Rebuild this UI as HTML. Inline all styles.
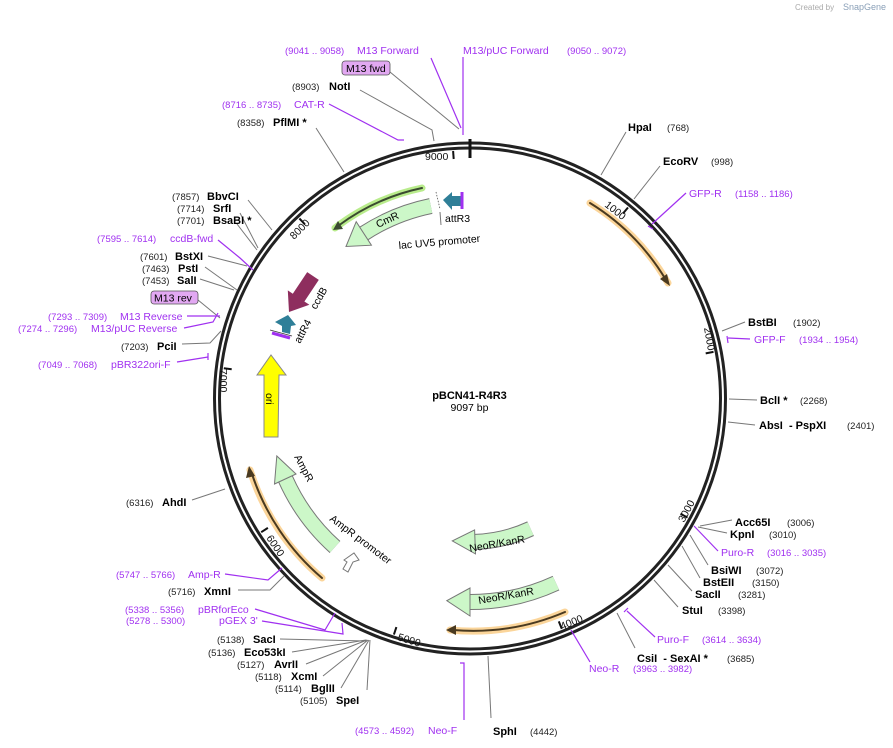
<!DOCTYPE html>
<html><head><meta charset="utf-8"><style>
html,body{margin:0;padding:0;background:#fff;}
svg{display:block;font-family:"Liberation Sans","DejaVu Sans",sans-serif;}
.b{font-weight:bold;font-size:11px;fill:#000;}
.n{font-size:9.5px;fill:#222;}
.p{font-size:10.5px;fill:#a030f0;}
.pn{font-size:9.5px;fill:#a030f0;}
.ln{stroke:#777;stroke-width:1;fill:none;}
.lp{stroke:#a030f0;stroke-width:1.2;fill:none;}
.tk{font-size:10.5px;fill:#111;}
</style></head><body>
<svg width="893" height="748" viewBox="0 0 893 748">
<text x="795" y="10" font-size="8" fill="#aaa">Created by</text><text x="843" y="10" font-size="9" fill="#8aa0b8">SnapGene</text>
<circle cx="470" cy="398.5" r="255.5" fill="none" stroke="#222" stroke-width="3"/>
<circle cx="470" cy="398.5" r="250.5" fill="none" stroke="#222" stroke-width="3"/>
<g stroke="#111" stroke-width="2">
<line x1="470" y1="139" x2="470" y2="158" stroke-width="3"/>
<line x1="453.1" y1="151" x2="453.7" y2="159"/>
<line x1="628" y1="207.5" x2="623" y2="213.5"/>
<line x1="713.5" y1="351.9" x2="705.7" y2="353.4"/>
<line x1="687.5" y1="517.6" x2="680.5" y2="513.8"/>
<line x1="561.8" y1="628.9" x2="558.8" y2="621.4"/>
<line x1="393.9" y1="634.6" x2="396.4" y2="627"/>
<line x1="261.2" y1="532.2" x2="267.9" y2="527.9"/>
<line x1="223.8" y1="368.3" x2="231.7" y2="369.3"/>
<line x1="299.4" y1="218.5" x2="304.9" y2="224.3"/>
</g>
<text class="tk" x="425" y="160">9000</text>
<text class="tk" transform="translate(604,206) rotate(38)">1000</text>
<text class="tk" transform="translate(704,328) rotate(80)">2000</text>
<text class="tk" transform="translate(684,523) rotate(-62)">3000</text>
<text class="tk" transform="translate(562,630) rotate(-22)">4000</text>
<text class="tk" transform="translate(397,640) rotate(17)">5000</text>
<text class="tk" transform="translate(266,538) rotate(56)">6000</text>
<text class="tk" transform="translate(220,369) rotate(90)">7000</text>
<text class="tk" transform="translate(294,240) rotate(-45)">8000</text>

<g fill="none" stroke-linecap="round">
<path d="M590 203 A228 228 0 0 1 668 283" stroke="#fbd59a" stroke-width="7"/>
<path d="M590 203 A228 228 0 0 1 666 280" stroke="#4a3a20" stroke-width="2"/>
<path d="M322 578 A232 232 0 0 1 250 470" stroke="#fbd59a" stroke-width="7"/>
<path d="M322 578 A232 232 0 0 1 252 474" stroke="#4a3a20" stroke-width="2"/>
<path d="M565 612 A235 235 0 0 1 450 630" stroke="#fbd59a" stroke-width="7"/>
<path d="M565 612 A235 235 0 0 1 453 630" stroke="#4a3a20" stroke-width="2"/>
<path d="M422 188 A215 215 0 0 0 335 228" stroke="#b9ec8c" stroke-width="7"/>
<path d="M422 188 A215 215 0 0 0 338 226" stroke="#3a4a30" stroke-width="2"/>
</g>
<g fill="#4a3a20">
<polygon points="670,286 660,279 667,274"/>
<polygon points="249,466 246,478 255,476"/>
<polygon points="446,630 456,625 456,635"/>
<polygon points="333,230 338,221 343,229" fill="#3a4a30"/>
</g>

<path d="M430.8 206 A195 195 0 0 0 363.8 233.5" fill="none" stroke="#777" stroke-width="16"/>
<path d="M430.8 206 A195 195 0 0 0 363.8 233.5" fill="none" stroke="#ccf7c8" stroke-width="14"/>
<polygon points="371.4,245.2 356.2,221.7 346,246.5" fill="#ccf7c8" stroke="#777" stroke-width="1"/>
<text transform="translate(378,228) rotate(-25)" font-size="10.5">CmR</text>
<path d="M335 547 A202 202 0 0 1 285.5 479" fill="none" stroke="#777" stroke-width="16"/>
<path d="M335 547 A202 202 0 0 1 285.5 479" fill="none" stroke="#ccf7c8" stroke-width="14"/>
<polygon points="296,474 274.5,484 276.8,456" fill="#ccf7c8" stroke="#777" stroke-width="1"/>
<text transform="translate(294,457) rotate(62)" font-size="10.5">AmpR</text>
<text transform="translate(329,520) rotate(37)" font-size="10.5">AmpR promoter</text>
<polygon points="344,560 354,553 359,560 353,562 348,572 343,569 347,562" fill="#fff" stroke="#777"/>
<path d="M530.6 528.7 A145 145 0 0 1 475.1 541.9" fill="none" stroke="#777" stroke-width="16"/>
<path d="M530.6 528.7 A145 145 0 0 1 475.1 541.9" fill="none" stroke="#ccf7c8" stroke-width="14"/>
<polygon points="474.6,529.9 475.5,553.9 452.3,540.9" fill="#ccf7c8" stroke="#777" stroke-width="1"/>
<text transform="translate(470,552) rotate(-10)" font-size="10.5">NeoR/KanR</text>
<path d="M556 583.1 A205 205 0 0 1 470 602" fill="none" stroke="#777" stroke-width="16"/>
<path d="M556 583.1 A205 205 0 0 1 470 602" fill="none" stroke="#ccf7c8" stroke-width="14"/>
<polygon points="470,588 470,616 446.8,600.7" fill="#ccf7c8" stroke="#777" stroke-width="1"/>
<text transform="translate(479,604) rotate(-10)" font-size="10.5">NeoR/KanR</text>
<polygon points="264,437 278,437 279,375 286,375 271,355 257,375 264,375" fill="#ffff00" stroke="#888"/>
<text transform="translate(266,393) rotate(90)" font-size="10.5">ori</text>
<polygon points="307.2,272.1 318.8,279.9 304.4,301.5 309.4,304.8 289,312 287.8,290.4 292.8,293.7" fill="#8e2e5e"/>
<text transform="translate(316,310) rotate(-60)" font-size="10.5">ccdB</text>
<polygon points="288,315 296,325 291,326 290,334 282,332 282,326 275,322" fill="#2f7f98"/>
<line x1="272" y1="333" x2="290" y2="338" stroke="#a030f0" stroke-width="3"/>
<line x1="270" y1="330" x2="292" y2="336" stroke="#333" stroke-width="0.7"/>
<text transform="translate(300,344) rotate(-62)" font-size="10.5">attR4</text>
<polygon points="443,200 452,192 452,196 462,196 462,206 452,206 452,210" fill="#2f7f98"/>
<line x1="462" y1="192" x2="462" y2="209" stroke="#a030f0" stroke-width="3"/>
<line x1="436" y1="192" x2="440" y2="209" stroke="#555" stroke-width="0.8" stroke-dasharray="1.5,1.5"/>
<text x="445" y="222" font-size="10.5">attR3</text>
<text transform="translate(399,249) rotate(-5)" font-size="10.5">lac UV5 promoter</text>
<line x1="440" y1="212" x2="441" y2="225" class="ln"/>

<text x="469.5" y="399" text-anchor="middle" class="b" font-size="11.5">pBCN41-R4R3</text>
<text x="469.5" y="411" text-anchor="middle" font-size="10.5">9097 bp</text>

<g class="ln">
<polyline points="626,132 601,175"/>
<polyline points="660,166 634,199"/>
<polyline points="745,322 722,331"/>
<polyline points="757,400 729,399"/>
<polyline points="755,425 728,422"/>
<polyline points="732,520 700,526"/>
<polyline points="727,533 698,527"/>
<polyline points="708,565 690,535"/>
<polyline points="700,578 682,546"/>
<polyline points="692,591 668,565"/>
<polyline points="678,607 654,580"/>
<polyline points="635,648 617,613"/>
<polyline points="491,718 488,656"/>
<polyline points="367,690 370,640"/>
<polyline points="341,688 369,640"/>
<polyline points="323,676 368,640"/>
<polyline points="306,664 367,640"/>
<polyline points="292,652 366,640"/>
<polyline points="280,639 366,641"/>
<polyline points="238,590 270,590 284,576"/>
<polyline points="192,500 225,489"/>
<polyline points="182,344 210,343 221,331"/>
<polyline points="200,279 234,290"/>
<polyline points="205,267 237,290"/>
<polyline points="208,256 247,266"/>
<polyline points="237,224 257,250"/>
<polyline points="240,213 258,248"/>
<polyline points="248,200 272,230"/>
<polyline points="316,128 344,172"/>
<polyline points="360,90 432,130 434,141"/>
<polyline points="390,72 459,129"/>
<polyline points="198,300 220,318"/>
</g>
<g class="lp">
<polyline points="686,193 652,224"/><line x1="648" y1="226" x2="653" y2="229"/>
<polyline points="750,339 728,338"/><line x1="727" y1="336" x2="728" y2="343"/>
<polyline points="718,551 694,526"/>
<polyline points="655,637 627,611"/><line x1="624" y1="612" x2="628" y2="608"/>
<polyline points="590,662 571,630"/>
<polyline points="464,720 464,663 460,663"/>
<polyline points="255,609 325,630 335,613"/>
<polyline points="262,621 343,634 342,623"/>
<polyline points="225,574 268,580 282,568"/>
<polyline points="177,362 208,357"/><line x1="208" y1="353" x2="208" y2="360"/>
<polyline points="184,328 213,322 218,313"/>
<polyline points="187,316 220,316"/>
<polyline points="218,240 240,258 253,270"/>
<polyline points="329,104 398,140 404,140"/>
<polyline points="431,58 461,128"/>
<polyline points="463,57 463,135"/>
</g>

<text class="pn" x="285" y="54">(9041 .. 9058)</text><text class="p" x="357" y="54">M13 Forward</text>
<text class="p" x="463" y="54">M13/pUC Forward</text><text class="pn" x="567" y="54">(9050 .. 9072)</text>
<rect x="342" y="61" width="48" height="14" rx="3" fill="#e2a8f2" stroke="#555" stroke-width="0.8"/>
<text x="346" y="72" font-size="10.5">M13 fwd</text>
<text class="n" x="292" y="90">(8903)</text><text class="b" x="329" y="90">NotI</text>
<text class="pn" x="222" y="108">(8716 .. 8735)</text><text class="p" x="294" y="108">CAT-R</text>
<text class="n" x="237" y="126">(8358)</text><text class="b" x="273" y="126">PflMI *</text>
<text class="n" x="172" y="200">(7857)</text><text class="b" x="207" y="200">BbvCI</text>
<text class="n" x="177" y="212">(7714)</text><text class="b" x="213" y="212">SrfI</text>
<text class="n" x="177" y="224">(7701)</text><text class="b" x="213" y="224">BsaBI *</text>
<text class="pn" x="97" y="242">(7595 .. 7614)</text><text class="p" x="170" y="242">ccdB-fwd</text>
<text class="n" x="140" y="260">(7601)</text><text class="b" x="175" y="260">BstXI</text>
<text class="n" x="142" y="272">(7463)</text><text class="b" x="178" y="272">PstI</text>
<text class="n" x="142" y="284">(7453)</text><text class="b" x="177" y="284">SalI</text>
<rect x="151" y="291" width="47" height="13" rx="3" fill="#e2a8f2" stroke="#555" stroke-width="0.8"/>
<text x="154" y="301.5" font-size="10.5">M13 rev</text>
<text class="pn" x="48" y="320">(7293 .. 7309)</text><text class="p" x="120" y="320">M13 Reverse</text>
<text class="pn" x="18" y="332">(7274 .. 7296)</text><text class="p" x="91" y="332">M13/pUC Reverse</text>
<text class="n" x="121" y="350">(7203)</text><text class="b" x="157" y="350">PciI</text>
<text class="pn" x="38" y="368">(7049 .. 7068)</text><text class="p" x="111" y="368">pBR322ori-F</text>
<text class="n" x="126" y="506">(6316)</text><text class="b" x="162" y="506">AhdI</text>
<text class="pn" x="116" y="578">(5747 .. 5766)</text><text class="p" x="188" y="578">Amp-R</text>
<text class="n" x="168" y="595">(5716)</text><text class="b" x="204" y="595">XmnI</text>
<text class="pn" x="125" y="613">(5338 .. 5356)</text><text class="p" x="198" y="613">pBRforEco</text>
<text class="pn" x="126" y="624">(5278 .. 5300)</text><text class="p" x="219" y="624">pGEX 3'</text>
<text class="n" x="217" y="643">(5138)</text><text class="b" x="253" y="643">SacI</text>
<text class="n" x="208" y="656">(5136)</text><text class="b" x="244" y="656">Eco53kI</text>
<text class="n" x="237" y="668">(5127)</text><text class="b" x="274" y="668">AvrII</text>
<text class="n" x="255" y="680">(5118)</text><text class="b" x="291" y="680">XcmI</text>
<text class="n" x="275" y="692">(5114)</text><text class="b" x="311" y="692">BglII</text>
<text class="n" x="300" y="704">(5105)</text><text class="b" x="336" y="704">SpeI</text>
<text class="pn" x="355" y="734">(4573 .. 4592)</text><text class="p" x="428" y="734">Neo-F</text>
<text class="b" x="493" y="735">SphI</text><text class="n" x="530" y="735">(4442)</text>
<text class="p" x="589" y="672">Neo-R</text><text class="pn" x="633" y="672">(3963 .. 3982)</text>
<text class="b" x="637" y="662">CsiI&#160;&#160;- SexAI *</text><text class="n" x="727" y="662">(3685)</text>
<text class="p" x="657" y="643">Puro-F</text><text class="pn" x="702" y="643">(3614 .. 3634)</text>
<text class="b" x="682" y="614">StuI</text><text class="n" x="718" y="614">(3398)</text>
<text class="b" x="695" y="598">SacII</text><text class="n" x="738" y="598">(3281)</text>
<text class="b" x="703" y="586">BstEII</text><text class="n" x="752" y="586">(3150)</text>
<text class="b" x="711" y="574">BsiWI</text><text class="n" x="756" y="574">(3072)</text>
<text class="p" x="721" y="556">Puro-R</text><text class="pn" x="767" y="556">(3016 .. 3035)</text>
<text class="b" x="730" y="538">KpnI</text><text class="n" x="769" y="538">(3010)</text>
<text class="b" x="735" y="526">Acc65I</text><text class="n" x="787" y="526">(3006)</text>
<text class="b" x="759" y="429">AbsI&#160;&#160;- PspXI</text><text class="n" x="847" y="429">(2401)</text>
<text class="b" x="760" y="404">BclI *</text><text class="n" x="800" y="404">(2268)</text>
<text class="p" x="754" y="343">GFP-F</text><text class="pn" x="799" y="343">(1934 .. 1954)</text>
<text class="b" x="748" y="326">BstBI</text><text class="n" x="793" y="326">(1902)</text>
<text class="p" x="689" y="197">GFP-R</text><text class="pn" x="735" y="197">(1158 .. 1186)</text>
<text class="b" x="663" y="165">EcoRV</text><text class="n" x="711" y="165">(998)</text>
<text class="b" x="628" y="131">HpaI</text><text class="n" x="667" y="131">(768)</text>
</svg>
</body></html>
